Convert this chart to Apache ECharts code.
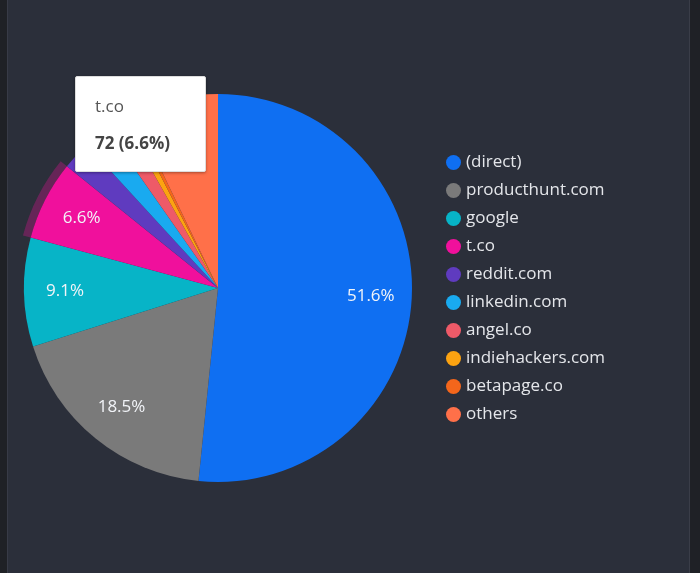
<!DOCTYPE html>
<html>
<head>
<meta charset="utf-8">
<script src="https://cdn.jsdelivr.net/npm/echarts@6/dist/echarts.min.js"></script>
<style>
  html, body { margin: 0; padding: 0; background: #1f2126; width: 700px; height: 573px; overflow: hidden; }
  #panel { position: absolute; left: 7px; top: 0; width: 681px; height: 573px; background: #2b2f3a;
           border-left: 1px solid #383b47; border-right: 1px solid #3a3d48; }
  #chart { position: absolute; left: 0; top: 0; width: 700px; height: 573px; }
</style>
</head>
<body>
<div id="panel"></div>
<div id="chart"></div>
<script>
// ---- data ----
const categories = ['(direct)', 'producthunt.com', 'google', 't.co', 'reddit.com', 'linkedin.com', 'angel.co', 'indiehackers.com', 'betapage.co', 'others'];
const visits = [563, 202, 99, 72, 26, 23, 17, 7, 4, 78];
const colors = ['#0f6ff2', '#7a7a7a', '#07b4c7', '#f0109c', '#5f3bbf', '#19aaf0', '#ee5a68', '#fca311', '#f4661b', '#ff7049'];
const highlighted = 't.co';

const chart = echarts.init(document.getElementById('chart'), null, { renderer: 'canvas' });

const mainData = categories.map((c, i) => ({ name: c, value: visits[i], itemStyle: { color: colors[i] } }));
const labelData = categories.map((c, i) => ({ name: c, value: visits[i] }));
const bandData = categories.map((c, i) => ({
  name: c, value: visits[i],
  itemStyle: { color: c === highlighted ? 'rgba(240,16,156,0.3)' : 'rgba(0,0,0,0)' }
}));

const CENTER = [218, 288];
const R = 194;

chart.setOption({
  backgroundColor: 'transparent',
  animation: false,
  tooltip: {
    trigger: 'item',
    triggerOn: 'none',
    alwaysShowContent: true,
    transitionDuration: 0,
    position: [75, 76],
    backgroundColor: '#ffffff',
    borderColor: '#dddddd',
    borderWidth: 1,
    padding: 0,
    extraCssText: 'box-shadow:0 1px 3px rgba(0,0,0,0.35);border-radius:2px;width:131px;height:96px;box-sizing:border-box;padding:18px 19px;',
    formatter: function (p) {
      return '<div style="font-family:\'Open Sans\',sans-serif;font-size:17px;line-height:22px;color:#555">' + p.name + '</div>' +
             '<div style="font-family:\'Open Sans\',sans-serif;margin-top:15px;font-size:17px;line-height:22px;font-weight:bold;color:#444">' +
             p.value + ' (' + p.percent.toFixed(1) + '%)</div>';
    }
  },
  legend: {
    orient: 'vertical',
    left: 441,
    top: 149,
    icon: 'circle',
    itemWidth: 15,
    itemHeight: 15,
    itemGap: 11,
    selectedMode: false,
    data: categories.map((c, i) => ({ name: c, itemStyle: { color: colors[i] } })),
    textStyle: { color: '#e4e6ea', fontSize: 17, fontFamily: 'Open Sans', padding: [0, 0, 0, 0], lineHeight: 14 }
  },
  series: [
    {
      type: 'pie',
      name: 'main',
      center: CENTER,
      radius: [0, R],
      startAngle: 90,
      clockwise: true,
      avoidLabelOverlap: false,
      label: { show: false },
      labelLine: { show: false },
      emphasis: { disabled: true },
      data: mainData
    },
    {
      type: 'pie',
      name: 'labels',
      center: CENTER,
      radius: [106, R],
      startAngle: 90,
      clockwise: true,
      silent: true,
      tooltip: { show: false },
      avoidLabelOverlap: false,
      itemStyle: { color: 'rgba(0,0,0,0)' },
      label: {
        show: true,
        position: 'inside',
        color: '#f2f4f8',
        fontSize: 17,
        fontFamily: 'Open Sans',
        formatter: function (p) { return p.percent >= 5 ? p.percent.toFixed(1) + '%' : ''; }
      },
      labelLine: { show: false },
      emphasis: { disabled: true },
      data: labelData
    },
    {
      type: 'pie',
      name: 'band',
      center: CENTER,
      radius: [R, R + 8],
      startAngle: 90,
      clockwise: true,
      silent: true,
      tooltip: { show: false },
      label: { show: false },
      labelLine: { show: false },
      emphasis: { disabled: true },
      data: bandData
    }
  ]
});

chart.dispatchAction({ type: 'showTip', seriesIndex: 0, dataIndex: categories.indexOf(highlighted) });
</script>
</body>
</html>
